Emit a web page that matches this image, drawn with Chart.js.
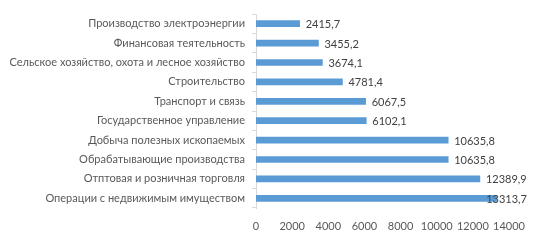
<!DOCTYPE html>
<html><head><meta charset="utf-8">
<script src="https://cdn.jsdelivr.net/npm/chart.js@4"></script>
<style>html,body{margin:0;padding:0;background:#fff}#w{width:534px;height:240px}</style>
</head><body><div id="w"><canvas id="c"></canvas></div>
<script>
const categories = ["Производство электроэнергии","Финансовая теятельность","Сельское хозяйство, охота и лесное хозяйство","Строительство","Транспорт и связь","Государственное управление","Добыча полезных ископаемых","Обрабатывающие производства","Отптовая и розничная торговля","Операции с недвижимым имуществом"];
const values = [2415.7,3455.2,3674.1,4781.4,6067.5,6102.1,10635.8,10635.8,12389.9,13313.7];
const valueLabels = ["2415,7","3455,2","3674,1","4781,4","6067,5","6102,1","10635,8","10635,8","12389,9","13313,7"];
const xTicks = [0,2000,4000,6000,8000,10000,12000,14000];

const FONT = "Lato, sans-serif";
const labelPlugin = {
  id:'vl',
  afterDatasetsDraw(chart){
    const ctx = chart.ctx;
    const meta = chart.getDatasetMeta(0);
    ctx.save();
    ctx.font = "11px " + FONT;
    ctx.fillStyle = "#404040";
    ctx.textBaseline = "middle";
    meta.data.forEach((bar,i)=>{
      const t = valueLabels[i];
      const w = ctx.measureText(t).width;
      let x = bar.x + 6;
      if (x + w > chart.width - 7) x = chart.width - 7 - w;
      ctx.fillText(t, x, bar.y + 1);
    });
    ctx.restore();
  }
};

new Chart(document.getElementById('c'), {
  type:'bar',
  data:{labels:categories, datasets:[{data:values, backgroundColor:'#5B9BD5', borderWidth:0, barThickness:6}]},
  options:{
    indexAxis:'y', responsive:true, maintainAspectRatio:false, animation:false,
    layout:{padding:{top:14,right:25,left:0,bottom:0}},
    plugins:{legend:{display:false}, tooltip:{enabled:false}},
    scales:{
      x:{min:0,max:14000,
        afterBuildTicks(s){ s.ticks = xTicks.map(v=>({value:v})); },
        afterFit(s){ s.height = 32; },
        grid:{display:false}, border:{display:false},
        ticks:{color:'#595959', font:{family:FONT,size:11}, padding:4, maxRotation:0, autoSkip:false,
          callback:(v)=>String(v)}},
      y:{
        afterFit(s){ s.width = 256; },
        grid:{display:true, drawOnChartArea:false, drawTicks:true, tickLength:4, color:'#D9D9D9', offset:true},
        border:{display:true,color:'#D9D9D9'},
        ticks:{color:'#595959', font:{family:FONT,size:11}, padding:7, autoSkip:false}}
    }
  },
  plugins:[labelPlugin]
});
</script></body></html>
